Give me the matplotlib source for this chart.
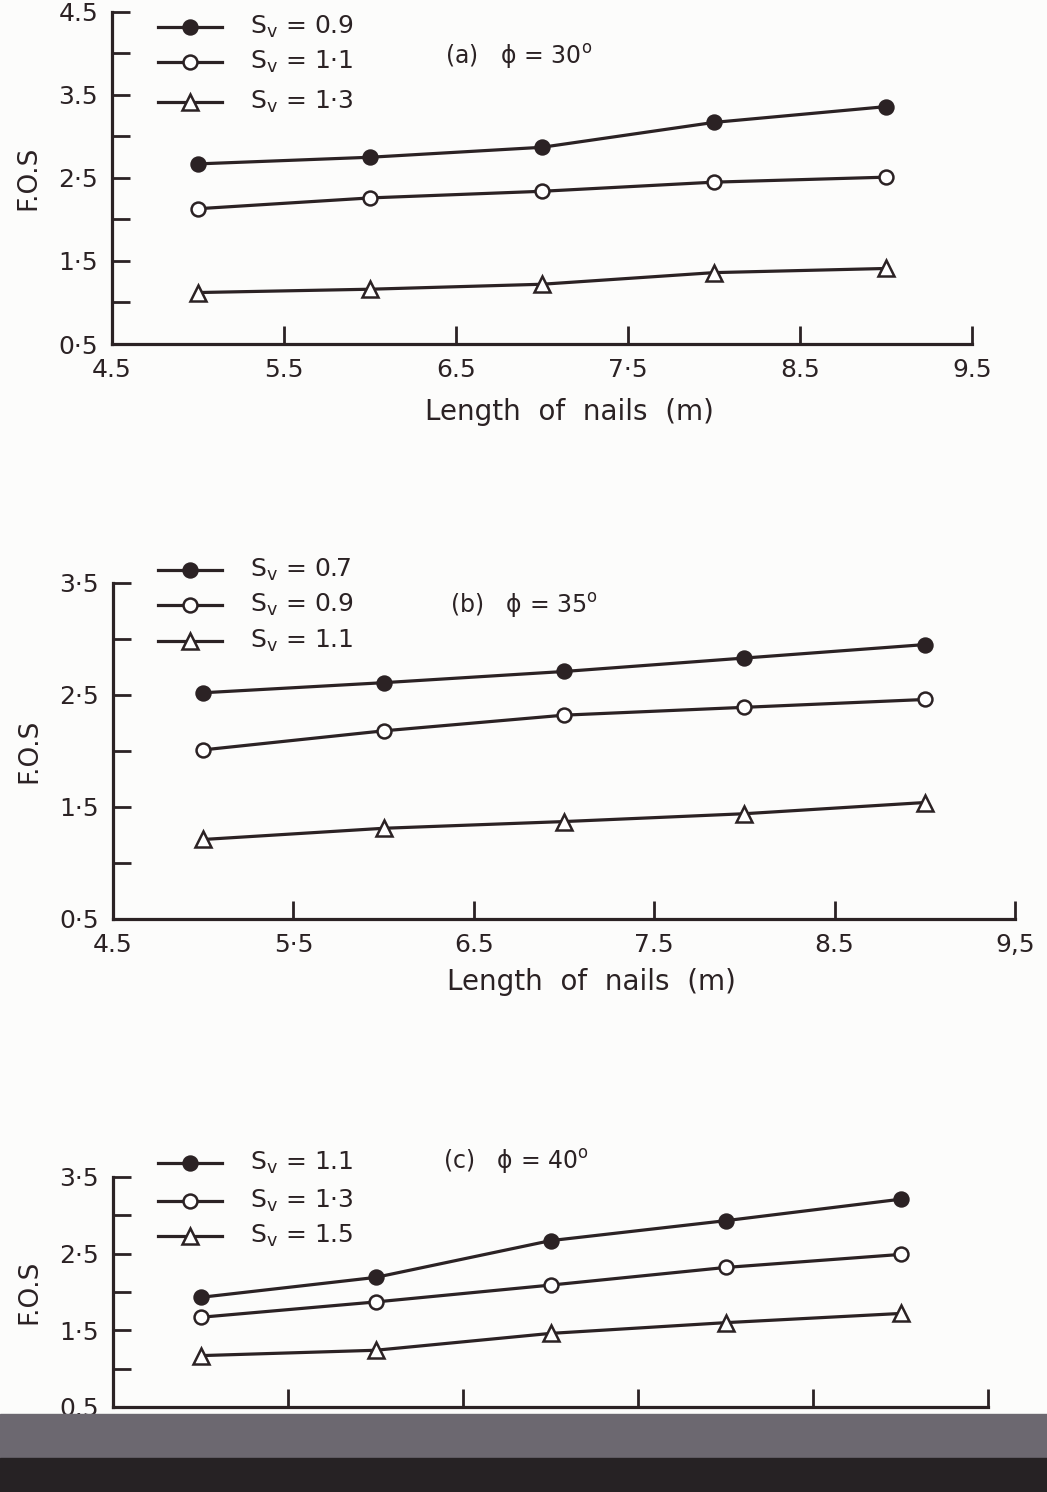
import matplotlib.pyplot as plt
from matplotlib.lines import Line2D
from matplotlib.patches import Rectangle

W, H = 1047, 1492
INK = '#2b2224'
PAPER = '#fcfcfb'

length = [5, 6, 7, 8, 9]

# (a) phi = 30
a_sv09 = [2.67, 2.75, 2.87, 3.17, 3.36]
a_sv11 = [2.13, 2.26, 2.34, 2.45, 2.51]
a_sv13 = [1.12, 1.16, 1.22, 1.36, 1.41]
# (b) phi = 35
b_sv07 = [2.52, 2.61, 2.71, 2.83, 2.95]
b_sv09 = [2.01, 2.18, 2.32, 2.39, 2.46]
b_sv11 = [1.21, 1.31, 1.37, 1.44, 1.54]
# (c) phi = 40
c_sv11 = [1.93, 2.19, 2.67, 2.93, 3.21]
c_sv13 = [1.67, 1.87, 2.09, 2.32, 2.49]
c_sv15 = [1.17, 1.24, 1.46, 1.60, 1.72]

a_labels = ['0.9', '1·1', '1·3']
b_labels = ['0.7', '0.9', '1.1']
c_labels = ['1.1', '1·3', '1.5']

a_yticklabels = ['0·5', '', '1·5', '', '2·5', '', '3.5', '', '4.5']
b_yticklabels = ['0·5', '', '1·5', '', '2·5', '', '3·5']
c_yticklabels = ['0.5', '', '1·5', '', '2·5', '', '3·5']
a_xticklabels = ['4.5', '5.5', '6.5', '7·5', '8.5', '9.5']
b_xticklabels = ['4.5', '5·5', '6.5', '7.5', '8.5', '9,5']
c_xticklabels = ['', '', '', '', '', '']

MARKERS = [dict(marker='o', mfc=INK, ms=10),
           dict(marker='o', mfc='white', ms=10),
           dict(marker='^', mfc='white', ms=12)]

fig = plt.figure(figsize=(W / 100, H / 100), dpi=100, facecolor=PAPER)


def fx(px):
    return px / W


def fy(py):
    return 1 - py / H


def panel(box, ymax, series, labels, yticklabels, xticklabels, title,
          title_xy, leg_rows, xlabel_y):
    l, t, r, b = box
    ax = fig.add_axes([fx(l), fy(b), fx(r - l), (b - t) / H])
    ax.set_facecolor('none')
    for s, mk in zip(series, MARKERS):
        ax.plot(length, s, color=INK, lw=2.3, mec=INK, mew=1.8, clip_on=False, **mk)
    ax.set_xlim(4.5, 9.5)
    ax.set_ylim(0.5, ymax)
    yt = [0.5 + 0.5 * i for i in range(len(yticklabels))]
    ax.set_yticks(yt)
    ax.set_yticklabels(yticklabels)
    ax.set_xticks([4.5, 5.5, 6.5, 7.5, 8.5, 9.5])
    ax.set_xticklabels(xticklabels)
    for side in ['top', 'right']:
        ax.spines[side].set_visible(False)
    for side in ['left', 'bottom']:
        ax.spines[side].set_linewidth(2.3)
        ax.spines[side].set_color(INK)
    ax.tick_params(direction='in', length=13, width=2, color=INK,
                   labelsize=18, labelcolor=INK, pad=10)
    ax.set_ylabel('F.O.S', fontsize=19, color=INK, labelpad=12)

    # hand-drawn style legend
    for (row_y, lab, mk) in zip(leg_rows, labels, MARKERS):
        fig.add_artist(Line2D([fx(158), fx(222)], [fy(row_y), fy(row_y)],
                              color=INK, lw=2.3))
        fig.add_artist(Line2D([fx(190)], [fy(row_y)], color=INK, mec=INK,
                              mew=1.8, ls='none', **mk))
        fig.text(fx(250), fy(row_y), 'S$_\\mathregular{v}$ = ' + lab,
                 fontsize=18, color=INK, va='center', ha='left')
    fig.text(fx(title_xy[0]), fy(title_xy[1]), title, fontsize=17,
             color=INK, va='center', ha='left')
    if xlabel_y is not None:
        fig.text(fx((l + r) / 2 + 27), fy(xlabel_y), 'Length  of  nails  (m)',
                 fontsize=20, color=INK, ha='center', va='center')
    return ax


panel((112, 12, 972, 344), 4.5, [a_sv09, a_sv11, a_sv13], a_labels,
      a_yticklabels, a_xticklabels, '(a)   ϕ = 30$^\\mathregular{o}$',
      (445, 57), [27, 62, 102], 412)

panel((113, 583, 1015, 919), 3.5, [b_sv07, b_sv09, b_sv11], b_labels,
      b_yticklabels, b_xticklabels, '(b)   ϕ = 35$^\\mathregular{o}$',
      (450, 605), [570, 605, 641], 982)

panel((113, 1177, 988, 1407), 3.5, [c_sv11, c_sv13, c_sv15], c_labels,
      c_yticklabels, c_xticklabels, '(c)   ϕ = 40$^\\mathregular{o}$',
      (443, 1162), [1163, 1201, 1236], None)

# damaged strip at the bottom of the scan
fig.add_artist(Rectangle((0, fy(1458)), 1, (1458 - 1414) / H,
                         transform=fig.transFigure, color='#6c6870', zorder=5))
fig.add_artist(Rectangle((0, 0), 1, (H - 1458) / H,
                         transform=fig.transFigure, color='#262224', zorder=5))

fig.savefig('out.png', dpi=100, facecolor=PAPER)
